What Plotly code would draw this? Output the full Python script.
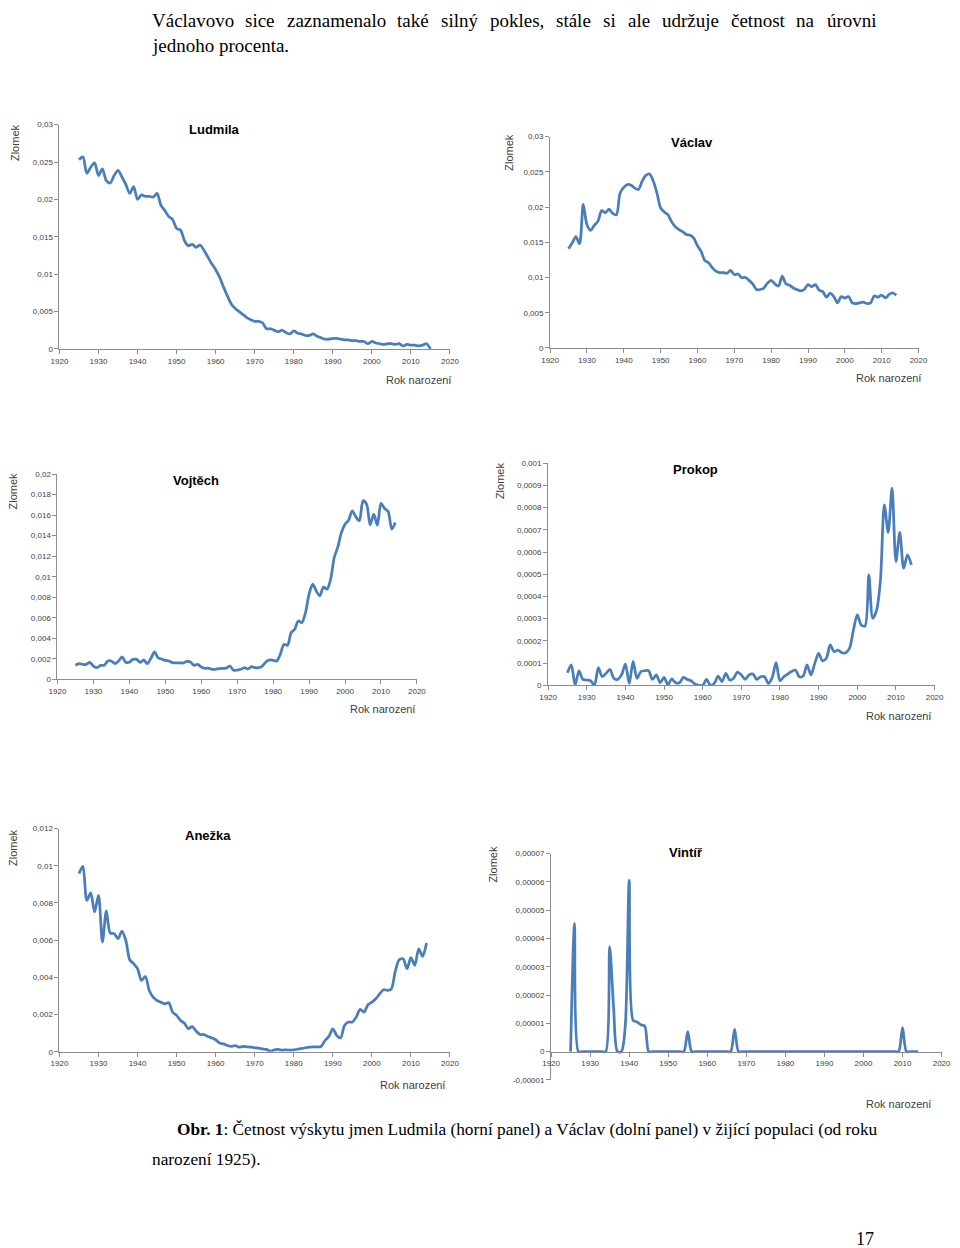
import plotly.graph_objects as go

W, H = 960, 1248

# ---------------- data ----------------
ludmila = [
    0.0253, 0.0257, 0.0235, 0.0243, 0.0249, 0.0232, 0.0241, 0.0225, 0.0222, 0.0232,
    0.0239, 0.0230, 0.0220, 0.0208, 0.0217, 0.0200, 0.0206, 0.0204, 0.0204, 0.0203,
    0.0208, 0.0192, 0.0185, 0.0177, 0.0173, 0.0161, 0.0159, 0.0145, 0.0138, 0.0140,
    0.0136, 0.0139, 0.0132, 0.0123, 0.0114, 0.0106, 0.0096, 0.0083, 0.0071, 0.0060,
    0.0054, 0.0050, 0.0046, 0.0042, 0.0039, 0.0037, 0.0037, 0.0035, 0.0027, 0.0027,
    0.0025, 0.0023, 0.0025, 0.0022, 0.0020, 0.0024, 0.0021, 0.0020, 0.0018, 0.0018,
    0.0020, 0.0017, 0.0015, 0.0013, 0.0013, 0.0014, 0.0014, 0.0013, 0.0012, 0.0012,
    0.0011, 0.0011, 0.0010, 0.0010, 0.0007, 0.0010, 0.0008, 0.0007, 0.0006, 0.0007,
    0.0007, 0.0006, 0.0007, 0.0004, 0.0006, 0.0005, 0.0005, 0.0004, 0.0005, 0.0007,
    0.0000,
]
vaclav = [
    0.0141, 0.0149, 0.0158, 0.0148, 0.0204, 0.0175, 0.0167, 0.0174, 0.0180, 0.0195,
    0.0192, 0.0197, 0.0191, 0.0189, 0.0220, 0.0228, 0.0232, 0.0231, 0.0227, 0.0225,
    0.0237, 0.0245, 0.0247, 0.0237, 0.0220, 0.0199, 0.0193, 0.0189, 0.0179, 0.0172,
    0.0168, 0.0165, 0.0161, 0.0160, 0.0156, 0.0145, 0.0137, 0.0124, 0.0121, 0.0114,
    0.0109, 0.0107, 0.0107, 0.0106, 0.0110, 0.0104, 0.0105, 0.0100, 0.0100, 0.0096,
    0.0091, 0.0083, 0.0083, 0.0085, 0.0092, 0.0096, 0.0091, 0.0088, 0.0102, 0.0091,
    0.0089, 0.0085, 0.0083, 0.0081, 0.0083, 0.0090, 0.0087, 0.0090, 0.0082, 0.0080,
    0.0072, 0.0078, 0.0073, 0.0064, 0.0073, 0.0071, 0.0073, 0.0064, 0.0063, 0.0064,
    0.0065, 0.0063, 0.0064, 0.0074, 0.0072, 0.0075, 0.0071, 0.0076, 0.0078, 0.0075,
]
vojtech = [
    0.00137, 0.00153, 0.00146, 0.00146, 0.00166, 0.00130, 0.00114, 0.00137, 0.00137, 0.00179,
    0.00179, 0.00153, 0.00179, 0.00218, 0.00166, 0.00166, 0.00195, 0.00195, 0.00166, 0.00189,
    0.00153, 0.00205, 0.00267, 0.00211, 0.00198, 0.00185, 0.00179, 0.00163, 0.00160, 0.00160,
    0.00160, 0.00176, 0.00169, 0.00137, 0.00146, 0.00120, 0.00107, 0.00110, 0.00098, 0.00098,
    0.00104, 0.00107, 0.00110, 0.00130, 0.00088, 0.00091, 0.00098, 0.00114, 0.00101, 0.00124,
    0.00114, 0.00114, 0.00130, 0.00169, 0.00189, 0.00185, 0.00179, 0.00244, 0.00341, 0.00332,
    0.00455, 0.00488, 0.00569, 0.00553, 0.00650, 0.00830, 0.00927, 0.00862, 0.00813, 0.00900,
    0.00878, 0.00976, 0.01187, 0.01291, 0.01431, 0.01512, 0.01551, 0.01642, 0.01584, 0.01545,
    0.01740, 0.01707, 0.01506, 0.01610, 0.01502, 0.01714, 0.01665, 0.01636, 0.01463, 0.01528,
]
prokop = [
    0.000057, 0.000092, 0.000002, 0.000065, 0.000027, 0.000024, 0.000021, 0.000000, 0.000080, 0.000039,
    0.000054, 0.000072, 0.000032, 0.000027, 0.000047, 0.000096, 0.000009, 0.000108, 0.000032, 0.000062,
    0.000066, 0.000066, 0.000027, 0.000047, 0.000012, 0.000036, 0.000003, 0.000029, 0.000012, 0.000012,
    0.000036, 0.000027, 0.000021, 0.000006, 0.000000, 0.000000, 0.000027, 0.000000, 0.000009, 0.000042,
    0.000017, 0.000054, 0.000024, 0.000032, 0.000060, 0.000047, 0.000027, 0.000047, 0.000051, 0.000027,
    0.000039, 0.000039, 0.000009, 0.000036, 0.000102, 0.000020, 0.000039, 0.000051, 0.000062, 0.000069,
    0.000039, 0.000042, 0.000092, 0.000047, 0.000099, 0.000144, 0.000110, 0.000122, 0.000182, 0.000152,
    0.000159, 0.000147, 0.000147, 0.000167, 0.000249, 0.000317, 0.000272, 0.000267, 0.000497, 0.000302,
    0.000339, 0.000474, 0.000812, 0.000688, 0.000887, 0.000557, 0.000688, 0.000527, 0.000587, 0.000542,
]
anezka = [
    0.00958, 0.00997, 0.00814, 0.00854, 0.00752, 0.00841, 0.00590, 0.00757, 0.00639, 0.00635,
    0.00608, 0.00649, 0.00599, 0.00495, 0.00474, 0.00447, 0.00384, 0.00405, 0.00330, 0.00294,
    0.00276, 0.00267, 0.00258, 0.00264, 0.00213, 0.00196, 0.00169, 0.00154, 0.00124, 0.00136,
    0.00111, 0.00093, 0.00093, 0.00083, 0.00075, 0.00065, 0.00047, 0.00043, 0.00034, 0.00029,
    0.00034, 0.00025, 0.00029, 0.00027, 0.00025, 0.00022, 0.00020, 0.00016, 0.00013, 0.00004,
    0.00011, 0.00013, 0.00009, 0.00011, 0.00009, 0.00011, 0.00014, 0.00018, 0.00022, 0.00025,
    0.00027, 0.00027, 0.00029, 0.00061, 0.00083, 0.00124, 0.00088, 0.00075, 0.00142, 0.00160,
    0.00160, 0.00187, 0.00228, 0.00213, 0.00253, 0.00267, 0.00285, 0.00312, 0.00334, 0.00330,
    0.00339, 0.00434, 0.00495, 0.00500, 0.00447, 0.00506, 0.00465, 0.00554, 0.00513, 0.00585,
]
vintir = [
    0.0, 0.0000452, 0.0, 0.0, 0.0, 0.0, 0.0, 0.0, 0.0, 0.0,
    0.0000371, 0.0000160, 0.0, 0.0, 0.0000091, 0.0000605, 0.0000111, 0.0000105, 0.0000095, 0.0000090,
    0.0, 0.0, 0.0, 0.0, 0.0, 0.0, 0.0, 0.0, 0.0, 0.0,
    0.0000071, 0.0, 0.0, 0.0, 0.0, 0.0, 0.0, 0.0, 0.0, 0.0,
    0.0, 0.0, 0.0000079, 0.0, 0.0, 0.0, 0.0, 0.0, 0.0, 0.0,
    0.0, 0.0, 0.0, 0.0, 0.0, 0.0, 0.0, 0.0, 0.0, 0.0,
    0.0, 0.0, 0.0, 0.0, 0.0, 0.0, 0.0, 0.0, 0.0, 0.0,
    0.0, 0.0, 0.0, 0.0, 0.0, 0.0, 0.0, 0.0, 0.0, 0.0,
    0.0, 0.0, 0.0, 0.0, 0.0, 0.0000085, 0.0, 0.0, 0.0, 0.0,
]
first_year = 1925

names = ["Ludmila", "Václav", "Vojtěch", "Prokop", "Anežka", "Vintíř"]

x_tick_vals = [1920, 1930, 1940, 1950, 1960, 1970, 1980, 1990, 2000, 2010, 2020]
x_tick_text = ["1920", "1930", "1940", "1950", "1960", "1970", "1980", "1990", "2000", "2010", "2020"]

y_vals_a = [0, 0.005, 0.01, 0.015, 0.02, 0.025, 0.03]
y_text_a = ["0", "0,005", "0,01", "0,015", "0,02", "0,025", "0,03"]
y_vals_vo = [0, 0.002, 0.004, 0.006, 0.008, 0.01, 0.012, 0.014, 0.016, 0.018, 0.02]
y_text_vo = ["0", "0,002", "0,004", "0,006", "0,008", "0,01", "0,012", "0,014", "0,016", "0,018", "0,02"]
y_vals_pr = [0, 0.0001, 0.0002, 0.0003, 0.0004, 0.0005, 0.0006, 0.0007, 0.0008, 0.0009, 0.001]
y_text_pr = ["0", "0,0001", "0,0002", "0,0003", "0,0004", "0,0005", "0,0006", "0,0007", "0,0008", "0,0009", "0,001"]
y_vals_an = [0, 0.002, 0.004, 0.006, 0.008, 0.01, 0.012]
y_text_an = ["0", "0,002", "0,004", "0,006", "0,008", "0,01", "0,012"]
y_vals_vi = [-0.00001, 0, 0.00001, 0.00002, 0.00003, 0.00004, 0.00005, 0.00006, 0.00007]
y_text_vi = ["-0,00001", "0", "0,00001", "0,00002", "0,00003", "0,00004", "0,00005", "0,00006", "0,00007"]

y_axis_title = "Zlomek"
x_axis_title = "Rok narození"

text_line1 = "Václavovo sice zaznamenalo také silný pokles, stále si ale udržuje četnost na úrovni"
text_line2 = "jednoho procenta."
caption_line1 = "<b>Obr. 1</b>: Četnost výskytu jmen Ludmila (horní panel) a Václav (dolní panel) v žijící populaci (od roku"
caption_line2 = "narození 1925)."
page_number = "17"

# ---------------- layout of the six panels (target page pixels) ----------------
series = [ludmila, vaclav, vojtech, prokop, anezka, vintir]
y_ticks = [(y_vals_a, y_text_a), (y_vals_a, y_text_a), (y_vals_vo, y_text_vo),
           (y_vals_pr, y_text_pr), (y_vals_an, y_text_an), (y_vals_vi, y_text_vi)]
y_ranges = [[0, 0.03], [0, 0.03], [0, 0.02], [0, 0.001], [0, 0.012], [-0.00001, 0.00007]]
# (left, right, top, bottom) of each plot area
boxes = [(60, 450, 124, 348), (550, 918, 136, 347), (58, 417, 473, 678),
         (548, 934, 462, 684), (60, 450, 827, 1050), (551, 941, 852, 1078)]
title_pos = [(215, 129), (692, 142), (196, 479), (695, 468), (208, 834), (686, 851)]
zlomek_pos = [(15, 142), (509, 152), (14, 490), (500, 480), (13, 846), (493, 863)]
rok_pos = [(419, 379), (888, 377), (383, 708), (898, 715), (413, 1083), (898, 1102)]

LINE_COLOR = "#4a7ebb"
AXIS_COLOR = "#8c8c8c"
SANS = "Liberation Sans, Arial, sans-serif"
TICK_FONT = dict(family=SANS, size=8, color="#404040")
LABEL_FONT = dict(family=SANS, size=11, color="#404040")
TITLE_FONT = dict(family=SANS, size=13, color="#000000")
SERIF = "Liberation Serif, Times New Roman, serif"

# measured page placement of the figure: page = offset + scale * figure pixel
OFF_X, SC_X = 17.6, 0.98
OFF_Y, SC_Y = 11.5, 0.9915


def fx(x):  # target page x -> figure pixel
    return (x - OFF_X) / SC_X


def fy(y):
    return (y - OFF_Y) / SC_Y


def px(x):
    return fx(x) / W


def py(y):
    return 1 - fy(y) / H


fig = go.Figure()
layout = dict(
    width=W, height=H,
    margin=dict(l=0, r=0, t=0, b=0),
    paper_bgcolor="white", plot_bgcolor="white",
    showlegend=False,
)
annotations = []

for i, (vals, name) in enumerate(zip(series, names)):
    k = "" if i == 0 else str(i + 1)
    xa, ya = "x" + k, "y" + k
    years = list(range(first_year, first_year + len(vals)))
    fig.add_trace(go.Scatter(
        x=years, y=vals, xaxis=xa, yaxis=ya, mode="lines",
        line=dict(color=LINE_COLOR, width=2.75, shape="spline", smoothing=0.8),
        hoverinfo="x+y",
    ))
    l, r, t, b = boxes[i]
    yr = y_ranges[i]
    xaxis = dict(
        domain=[px(l), px(r)], range=[1920, 2020], anchor=ya,
        tickmode="array", tickvals=x_tick_vals, ticktext=x_tick_text,
        showline=True, linecolor=AXIS_COLOR, linewidth=1,
        ticks="outside", ticklen=4, tickcolor=AXIS_COLOR, tickwidth=1,
        showgrid=False, zeroline=False, tickfont=TICK_FONT, fixedrange=True,
    )
    if yr[0] < 0:
        zero_px = t + (yr[1] - 0) / (yr[1] - yr[0]) * (b - t)
        xaxis["anchor"] = "free"
        xaxis["position"] = py(zero_px)
    yaxis = dict(
        domain=[py(b), py(t)], range=yr, anchor=xa,
        tickmode="array", tickvals=y_ticks[i][0], ticktext=y_ticks[i][1],
        showline=True, linecolor=AXIS_COLOR, linewidth=1,
        ticks="outside", ticklen=4, tickcolor=AXIS_COLOR, tickwidth=1,
        showgrid=False, zeroline=False, tickfont=TICK_FONT, fixedrange=True,
    )
    layout["xaxis" + k] = xaxis
    layout["yaxis" + k] = yaxis

    tx, ty = title_pos[i]
    annotations.append(dict(text="<b>" + name + "</b>", x=px(tx), y=py(ty), xref="paper", yref="paper",
                            xanchor="center", yanchor="middle", showarrow=False, font=TITLE_FONT))
    zx, zy = zlomek_pos[i]
    annotations.append(dict(text=y_axis_title, x=px(zx), y=py(zy), xref="paper", yref="paper",
                            xanchor="center", yanchor="middle", textangle=-90, showarrow=False,
                            font=LABEL_FONT))
    rx, ry = rok_pos[i]
    annotations.append(dict(text=x_axis_title, x=px(rx), y=py(ry), xref="paper", yref="paper",
                            xanchor="center", yanchor="middle", showarrow=False, font=LABEL_FONT))

# ---- body text: the first line is justified (words spread between the two margins) ----
BODY_SIZE = 19
CAPTION_SIZE = 17.3
TIMES_W = {  # Times / Liberation Serif advance widths, 1/1000 em
    "a": 444, "á": 444, "b": 500, "c": 444, "č": 444, "d": 500, "e": 444, "é": 444, "f": 333,
    "g": 500, "h": 500, "i": 278, "í": 278, "j": 278, "k": 500, "l": 278, "m": 778, "n": 500,
    "o": 500, "p": 500, "r": 333, "s": 389, "t": 278, "u": 500, "ú": 500, "v": 500, "y": 500,
    "ý": 500, "z": 444, "ž": 444, "V": 722, ",": 250, ".": 250,
}
left_f, right_f = fx(150), fx(873)
words = text_line1.split(" ")
word_w = [sum(TIMES_W.get(c, 500) for c in w) / 1000 * BODY_SIZE for w in words]
gap = (right_f - left_f - sum(word_w)) / (len(words) - 1)
body_font = dict(family=SERIF, size=BODY_SIZE, color="#000000")
cap_font = dict(family=SERIF, size=CAPTION_SIZE, color="#000000")
xf = left_f
line1_y = 1 - max(fy(12), 8.5) / H
for w, ww in zip(words, word_w):
    annotations.append(dict(text=w, x=xf / W, y=line1_y, xref="paper", yref="paper",
                            xanchor="left", yanchor="middle", showarrow=False, font=body_font))
    xf += ww + gap

annotations += [
    dict(text=text_line2, x=px(150), y=py(45), xref="paper", yref="paper", xanchor="left",
         yanchor="middle", showarrow=False, font=body_font),
    dict(text=caption_line1, x=px(175), y=py(1128), xref="paper", yref="paper", xanchor="left",
         yanchor="middle", showarrow=False, font=cap_font),
    dict(text=caption_line2, x=px(150), y=py(1158), xref="paper", yref="paper", xanchor="left",
         yanchor="middle", showarrow=False, font=cap_font),
    dict(text=page_number, x=px(865), y=py(1237), xref="paper", yref="paper", xanchor="center",
         yanchor="middle", showarrow=False, font=dict(family=SERIF, size=18, color="#000000")),
]
layout["annotations"] = annotations
fig.update_layout(**layout)
fig.write_html("out.html")
